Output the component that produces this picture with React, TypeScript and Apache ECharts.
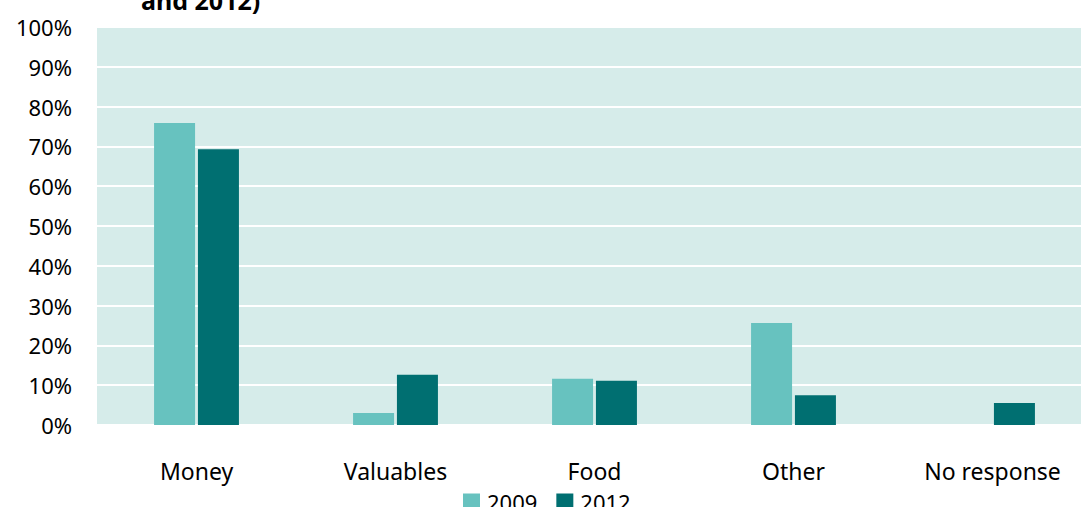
import React, { useEffect, useRef } from "react";
import * as echarts from "echarts";

const categories = ["Money", "Valuables", "Food", "Other", "No response"];
const values2009 = [75.9, 3.0, 11.6, 25.6, 0];
const values2012 = [69.3, 12.6, 11.1, 7.5, 5.5];
const seriesNames = ["2009", "2012"];
const titleTail = "and 2012)";

export default function App() {
  const ref = useRef<HTMLDivElement>(null);
  useEffect(() => {
    if (!ref.current) return;
    const chart = echarts.init(ref.current, null, { renderer: "svg" });
    const font = "'Noto Sans', sans-serif";
    chart.setOption({
      animation: false,
      textStyle: { fontFamily: font },
      graphic: [
        {
          type: "text",
          left: 141,
          top: -13,
          style: {
            text: titleTail,
            font: "bold 25px 'Noto Sans', sans-serif",
            fill: "#000",
          },
        },
      ],
      legend: {
        data: seriesNames,
        left: 463,
        top: 491,
        padding: 0,
        itemWidth: 17,
        itemHeight: 17,
        itemGap: 19,
        icon: "rect",
        textStyle: { fontSize: 22, color: "#000", fontFamily: font, padding: [0, 0, 0, 2] },
      },
      grid: {
        left: 97,
        top: 27,
        width: 995,
        height: 398,
        show: true,
        backgroundColor: "#D6ECEA",
        borderWidth: 0,
        containLabel: false,
      },
      xAxis: {
        type: "category",
        data: categories,
        axisLine: { show: false },
        axisTick: { show: false },
        axisLabel: { fontSize: 23, color: "#000", margin: 34, fontFamily: font },
      },
      yAxis: {
        type: "value",
        min: 0,
        max: 100,
        interval: 10,
        axisLine: { show: false },
        axisTick: { show: false },
        axisLabel: {
          formatter: "{value}%",
          fontSize: 22,
          color: "#000",
          margin: 25,
          fontFamily: font,
        },
        splitLine: { lineStyle: { color: "#ffffff", width: 2 } },
      },
      series: [
        {
          name: seriesNames[0],
          type: "bar",
          data: values2009,
          barWidth: 41,
          barGap: "7%",
          itemStyle: { color: "#67C2BF" },
        },
        {
          name: seriesNames[1],
          type: "bar",
          data: values2012,
          barWidth: 41,
          barGap: "7%",
          itemStyle: { color: "#006F71" },
        },
      ],
    });
    return () => chart.dispose();
  }, []);
  return (
    <div style={{ position: "fixed", left: 0, top: 0, width: 1081, height: 507, overflow: "hidden", background: "#fff" }}>
      <div ref={ref} style={{ width: 1100, height: 507 }} />
    </div>
  );
}
